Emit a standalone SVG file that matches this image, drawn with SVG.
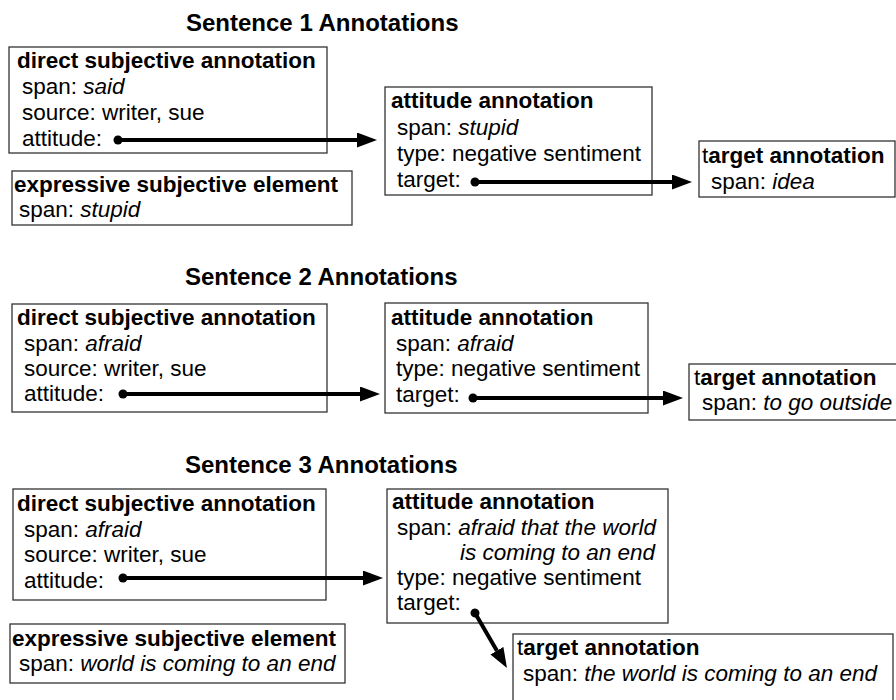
<svg xmlns="http://www.w3.org/2000/svg" width="896" height="700" viewBox="0 0 896 700">
<style>
text{font-family:"Liberation Sans",Arial,Helvetica,sans-serif;font-size:22.5px;fill:#000}
.h{font-size:24px;font-weight:bold}
.b{font-weight:bold}
.i{font-style:italic}
.n{font-weight:normal}
rect{fill:#fff;stroke:#333;stroke-width:1.3}
.c{fill:none;stroke:#000;stroke-width:4}
</style>
<defs>
<marker id="ah" markerUnits="userSpaceOnUse" markerWidth="20" markerHeight="15" viewBox="0 0 20 15" refX="0" refY="7.5" orient="auto"><path d="M0,0 L20,7.5 L0,15 z" fill="#000"/></marker>
<marker id="dot" markerUnits="userSpaceOnUse" markerWidth="10" markerHeight="10" viewBox="0 0 10 10" refX="5" refY="5" orient="auto"><circle cx="5" cy="5" r="4.5" fill="#000"/></marker>
</defs>
<rect x="-5" y="-5" width="910" height="710" style="fill:#fff;stroke:none"/>

<text class="h" x="186" y="31">Sentence 1 Annotations</text>
<text class="h" x="185" y="285">Sentence 2 Annotations</text>
<text class="h" x="185" y="473">Sentence 3 Annotations</text>

<g id="s1-direct">
<rect x="9" y="47" width="318" height="106"/>
<text class="b" x="17" y="68">direct subjective annotation</text>
<text x="22" y="94">span: <tspan class="i">said</tspan></text>
<text x="22" y="120">source: writer, sue</text>
<text x="22" y="146">attitude:</text>
</g>
<g id="s1-expressive">
<rect x="12" y="171" width="340" height="54"/>
<text class="b" x="14" y="192">expressive subjective element</text>
<text x="19" y="217">span: <tspan class="i">stupid</tspan></text>
</g>
<g id="s1-attitude">
<rect x="385" y="87" width="267" height="108"/>
<text class="b" x="391" y="108">attitude annotation</text>
<text x="397" y="135">span: <tspan class="i">stupid</tspan></text>
<text x="397" y="161">type: negative sentiment</text>
<text x="397" y="187">target:</text>
</g>
<g id="s1-target">
<rect x="699" y="141" width="196" height="56"/>
<text x="702" y="163"><tspan class="n">t</tspan><tspan class="b">arget annotation</tspan></text>
<text x="711" y="189">span: <tspan class="i">idea</tspan></text>
</g>

<g id="s2-direct">
<rect x="12" y="304" width="315" height="108"/>
<text class="b" x="17" y="325">direct subjective annotation</text>
<text x="24" y="351">span: <tspan class="i">afraid</tspan></text>
<text x="24" y="376">source: writer, sue</text>
<text x="24" y="401">attitude:</text>
</g>
<g id="s2-attitude">
<rect x="385" y="303" width="263" height="110"/>
<text class="b" x="391" y="325">attitude annotation</text>
<text x="396" y="351">span: <tspan class="i">afraid</tspan></text>
<text x="396" y="376">type: negative sentiment</text>
<text x="396" y="402">target:</text>
</g>
<g id="s2-target">
<rect x="689" y="364" width="210" height="56"/>
<text x="694" y="385"><tspan class="n">t</tspan><tspan class="b">arget annotation</tspan></text>
<text x="702" y="410">span: <tspan class="i">to go outside</tspan></text>
</g>

<g id="s3-direct">
<rect x="13" y="489" width="313" height="111"/>
<text class="b" x="17" y="511">direct subjective annotation</text>
<text x="24" y="537">span: <tspan class="i">afraid</tspan></text>
<text x="24" y="562">source: writer, sue</text>
<text x="24" y="588">attitude:</text>
</g>
<g id="s3-expressive">
<rect x="10" y="624" width="335" height="59"/>
<text class="b" x="12" y="646">expressive subjective element</text>
<text x="19" y="671">span: <tspan class="i">world is coming to an end</tspan></text>
</g>
<g id="s3-attitude">
<rect x="387" y="489" width="281" height="134"/>
<text class="b" x="392" y="509">attitude annotation</text>
<text x="397" y="535">span: <tspan class="i">afraid that the world</tspan></text>
<text class="i" x="460" y="560">is coming to an end</text>
<text x="397" y="585">type: negative sentiment</text>
<text x="397" y="610">target:</text>
</g>
<g id="s3-target">
<rect x="513" y="634" width="380" height="70"/>
<text x="517" y="655"><tspan class="n">t</tspan><tspan class="b">arget annotation</tspan></text>
<text x="523" y="681">span: <tspan class="i">the world is coming to an end</tspan></text>
</g>

<g id="connectors">
<path class="c" d="M118,140 L357,140" marker-start="url(#dot)" marker-end="url(#ah)"/>
<path class="c" d="M475,182 L672,182" marker-start="url(#dot)" marker-end="url(#ah)"/>
<path class="c" d="M123,394 L360,394" marker-start="url(#dot)" marker-end="url(#ah)"/>
<path class="c" d="M473,398 L663,398" marker-start="url(#dot)" marker-end="url(#ah)"/>
<path class="c" d="M123,578 L363,578" marker-start="url(#dot)" marker-end="url(#ah)"/>
<path class="c" d="M475,613 L496.9,650.7" marker-start="url(#dot)" marker-end="url(#ah)"/>
</g>
</svg>
